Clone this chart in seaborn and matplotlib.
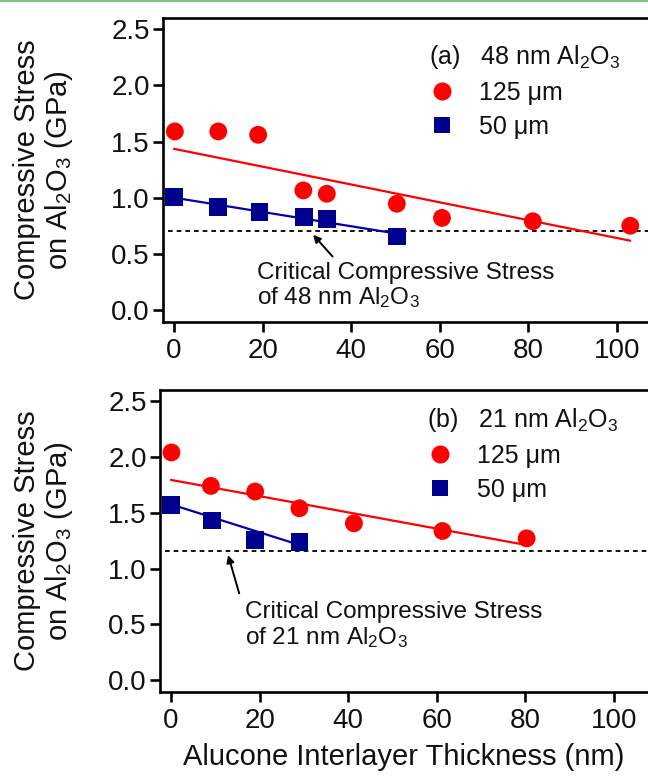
import numpy as np
import pandas as pd
import matplotlib
matplotlib.use("Agg")
import matplotlib.pyplot as plt
from matplotlib.lines import Line2D
import seaborn as sns

# ---------------- data ----------------
# panel (a) 48 nm Al2O3
a_red_x = [0.2, 10.0, 19.0, 29.2, 34.5, 50.3, 60.5, 81.0, 103.0]
a_red_y = [1.59, 1.59, 1.56, 1.065, 1.035, 0.946, 0.82, 0.79, 0.75]
a_blue_x = [0.0, 10.0, 19.3, 29.3, 34.6, 50.3]
a_blue_y = [1.003, 0.914, 0.872, 0.828, 0.81, 0.655]
a_red_fit_x = [0.0, 103.0]
a_red_fit_y = [1.435, 0.617]
a_blue_fit_x = [0.0, 50.3]
a_blue_fit_y = [1.0, 0.68]
a_critical = 0.705

# panel (b) 21 nm Al2O3
b_red_x = [0.1, 9.0, 19.0, 29.0, 41.3, 61.3, 80.3]
b_red_y = [2.04, 1.74, 1.69, 1.54, 1.405, 1.336, 1.27]
b_blue_x = [0.0, 9.2, 19.0, 29.0]
b_blue_y = [1.57, 1.43, 1.256, 1.235]
b_red_fit_x = [0.0, 80.3]
b_red_fit_y = [1.794, 1.21]
b_blue_fit_x = [0.0, 28.7]
b_blue_fit_y = [1.575, 1.215]
b_critical = 1.16

x_ticks = [0, 20, 40, 60, 80, 100]
y_ticks = [0.0, 0.5, 1.0, 1.5, 2.0, 2.5]
series_labels = ["125 \u03bcm", "50 \u03bcm"]

RED = "#ff0000"
BLUE = "#00008f"
BLUE_LINE = "#0000b0"
TXT = "#111111"

sns.set_theme(style="white")
plt.rcParams["font.family"] = ["Liberation Sans", "DejaVu Sans"]
plt.rcParams["mathtext.fontset"] = "custom"
plt.rcParams["mathtext.rm"] = "Liberation Sans"
plt.rcParams["mathtext.it"] = "Liberation Sans:italic"
plt.rcParams["mathtext.bf"] = "Liberation Sans:bold"

W, H = 648, 776
fig = plt.figure(figsize=(W / 100, H / 100), dpi=100)

def px_axes(left, top, right, bottom):
    return fig.add_axes([left / W, 1 - bottom / H, (right - left) / W, (bottom - top) / H])

ax_a = px_axes(163, 18, 648, 322)
ax_b = px_axes(160, 390, 648, 692)

LEG_FS = 18


def draw_panel(ax, rx, ry, bx, by, rfx, rfy, bfx, bfy, crit, xlim, title,
               leg_xy, arrow_tip, arrow_tail, text_xy, text):
    df_r = pd.DataFrame({"x": rx, "y": ry})
    df_b = pd.DataFrame({"x": bx, "y": by})
    df_rf = pd.DataFrame({"x": rfx, "y": rfy})
    df_bf = pd.DataFrame({"x": bfx, "y": bfy})

    sns.lineplot(data=df_rf, x="x", y="y", ax=ax, color=RED, lw=1.6, zorder=2)
    sns.lineplot(data=df_bf, x="x", y="y", ax=ax, color=BLUE_LINE, lw=1.6, zorder=2)
    ax.axhline(crit, xmin=(-1.4 - xlim[0]) / (xlim[1] - xlim[0]), xmax=1.0,
               color="black", lw=1.3, ls=(0, (2.6, 2.2)), zorder=1)
    sns.scatterplot(data=df_r, x="x", y="y", ax=ax, color=RED, marker="o",
                    s=165, edgecolor="none", zorder=3)
    sns.scatterplot(data=df_b, x="x", y="y", ax=ax, color=BLUE, marker="s",
                    s=165, edgecolor="none", zorder=3)

    ax.set_xlim(*xlim)
    ax.set_ylim(-0.107, 2.6)
    ax.set_xticks(x_ticks)
    ax.set_yticks(y_ticks)
    ax.set_yticklabels([f"{v:.1f}" for v in y_ticks])
    ax.set_xticklabels([str(v) for v in x_ticks])
    ax.set_xlabel("")
    ax.set_ylabel("")
    for side in ["left", "bottom", "top"]:
        ax.spines[side].set_visible(True)
        ax.spines[side].set_color("black")
        ax.spines[side].set_linewidth(1.9)
    ax.spines["right"].set_visible(False)
    ax.tick_params(axis="both", which="major", direction="out", length=7.5,
                   width=1.9, color="black", labelsize=20, labelcolor=TXT)
    ax.tick_params(axis="y", pad=2)
    ax.tick_params(axis="x", pad=4)
    ax.tick_params(top=False, right=False, left=True, bottom=True)

    handles = [Line2D([], [], ls="", marker="o", color=RED, markersize=13, markeredgewidth=0),
               Line2D([], [], ls="", marker="s", color=BLUE, markersize=12, markeredgewidth=0)]
    leg = ax.legend(handles, series_labels, title=title, frameon=False,
                    fontsize=LEG_FS, title_fontsize=LEG_FS, loc="upper left",
                    bbox_to_anchor=(leg_xy[0] / W, 1 - leg_xy[1] / H),
                    bbox_transform=fig.transFigure, borderpad=0, borderaxespad=0,
                    handlelength=1.04, handletextpad=0.96, labelspacing=0.4)
    leg._legend_box.align = "left"
    for t in leg.get_texts():
        t.set_color(TXT)
    leg.get_title().set_color(TXT)

    ax.annotate("", xy=arrow_tip, xytext=arrow_tail,
                arrowprops=dict(arrowstyle="-|>", color="black", lw=1.4,
                                mutation_scale=11, shrinkA=0, shrinkB=0))
    ax.text(text_xy[0], text_xy[1], text, fontsize=17.5, ha="left", va="center",
            linespacing=1.1, color=TXT)


draw_panel(ax_a, a_red_x, a_red_y, a_blue_x, a_blue_y, a_red_fit_x, a_red_fit_y,
           a_blue_fit_x, a_blue_fit_y, a_critical, (-2.48, 107.0),
           "(a)   48 nm Al$_2$O$_3$", (429, 43), (31.4, 0.67), (35.8, 0.476),
           (18.8, 0.213), "Critical Compressive Stress\nof 48 nm Al$_2$O$_3$")

draw_panel(ax_b, b_red_x, b_red_y, b_blue_x, b_blue_y, b_red_fit_x, b_red_fit_y,
           b_blue_fit_x, b_blue_fit_y, b_critical, (-2.48, 107.7),
           "(b)   21 nm Al$_2$O$_3$", (427, 406), (12.9, 1.12), (15.4, 0.777),
           (16.7, 0.49), "Critical Compressive Stress\nof 21 nm Al$_2$O$_3$")

ylab = "Compressive Stress\non Al$_2$O$_3$ (GPa)"
for ax, left in ((ax_a, 163), (ax_b, 160)):
    ax.set_ylabel(ylab, fontsize=21, color=TXT, linespacing=1.1)
    ax.yaxis.label.set_va("center")
    ax.yaxis.set_label_coords((44 - left) / (648 - left), 0.5)
ax_b.set_xlabel("Alucone Interlayer Thickness (nm)", fontsize=21, color=TXT)
ax_b.xaxis.set_label_coords((404 - 160) / 488, -(757 - 692) / 302)
ax_b.xaxis.label.set_va("center")

# thin green rule at the top of the figure
fig.add_artist(Line2D([0, 1], [0.9985, 0.9985], transform=fig.transFigure,
                      color="#7cc487", lw=1.5))

fig.savefig("out.png", dpi=100)
